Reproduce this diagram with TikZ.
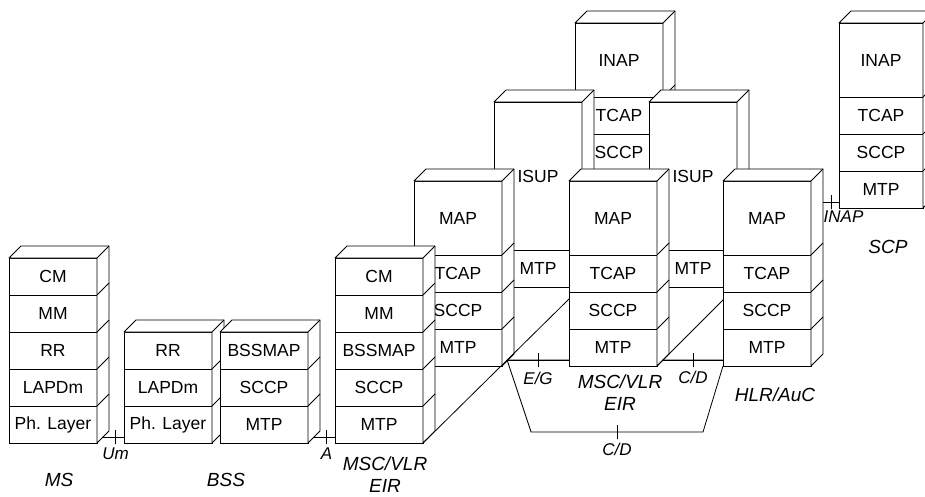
\documentclass[tikz,border=0pt]{standalone}
\usepackage{fontspec}
\setmainfont{Liberation Sans}
\usetikzlibrary{positioning,calc}

% top and right faces of a protocol stack
\newcommand\sides[2]{%
  \draw[face] (#1.north west) -- ++(12,-12) -| ($(#2.south east)+(12,-12)$)
    -- (#2.south east) -- (#1.north east) -- cycle;
  \draw (#1.north east) -- ++(12,-12);}
\newcommand\seam[1]{\draw (#1.south east) -- ++(12,-12);}

\begin{document}
\begin{tikzpicture}[x=1pt,y=-1pt,
  font=\fontsize{17.5}{20}\selectfont,
  line width=0.8pt,
  layer/.style={draw,fill=white,minimum width=88pt,minimum height=37pt,
    inner sep=0pt,outer sep=0pt},
  dbl/.style={layer,minimum height=74pt},
  face/.style={fill=white,line join=round},
  tick/.style={draw,minimum width=0pt,minimum height=14pt,inner sep=0pt,
    outer sep=0pt},
  ifc/.style={font=\fontsize{17}{20}\selectfont\itshape},
  nelabel/.style={font=\fontsize{19}{22}\selectfont\itshape,align=center}
]
\useasboundingbox (0,0) rectangle (925,497);
\clip (0,0) rectangle (925,497);
\fill[white] (0,0) rectangle (925,497);

% SCP
\node[dbl,minimum width=84pt,anchor=north west] (scinap) at (839,23) {INAP};
\node[layer,minimum width=84pt,below=0pt of scinap] (sctcap) {TCAP};
\node[layer,minimum width=84pt,below=0pt of sctcap] (scsccp) {SCCP};
\node[layer,minimum width=84pt,below=0pt of scsccp] (scmtp) {MTP};
\sides{scinap}{scmtp}
\foreach \n in {scinap,sctcap,scsccp} {\seam{\n}}

% rear stack of the MSC/VLR
\node[dbl,anchor=north west] (inap) at (575,23) {INAP};
\node[layer,below=0pt of inap] (intcap) {TCAP};
\node[layer,below=0pt of intcap] (insccp) {SCCP};
\sides{inap}{insccp}
\foreach \n in {inap,intcap} {\seam{\n}}

% ISUP stacks
\node[layer,minimum height=148pt,anchor=north west] (iaisup) at (494,102) {ISUP};
\node[layer,below=0pt of iaisup] (iamtp) {MTP};
\node[layer,minimum height=73pt,below=0pt of iamtp] (iafoot) {};
\sides{iaisup}{iafoot}
\foreach \n in {iaisup,iamtp} {\seam{\n}}

\node[layer,minimum height=148pt,anchor=north west] (ibisup) at (649,102) {ISUP};
\node[layer,below=0pt of ibisup] (ibmtp) {MTP};
\node[layer,minimum height=73pt,below=0pt of ibmtp] (ibfoot) {};
\sides{ibisup}{ibfoot}
\foreach \n in {ibisup,ibmtp} {\seam{\n}}

% MAP stacks
\node[dbl,anchor=north west] (mamap) at (414,181) {MAP};
\node[layer,below=0pt of mamap] (matcap) {TCAP};
\node[layer,below=0pt of matcap] (masccp) {SCCP};
\node[layer,below=0pt of masccp] (mamtp) {MTP};
\sides{mamap}{mamtp}
\foreach \n in {mamap,matcap,masccp} {\seam{\n}}

\node[dbl,anchor=north west] (mbmap) at (569,181) {MAP};
\node[layer,below=0pt of mbmap] (mbtcap) {TCAP};
\node[layer,below=0pt of mbtcap] (mbsccp) {SCCP};
\node[layer,below=0pt of mbsccp] (mbmtp) {MTP};
\sides{mbmap}{mbmtp}
\foreach \n in {mbmap,mbtcap,mbsccp} {\seam{\n}}

\node[dbl,anchor=north west] (hlmap) at (723,181) {MAP};
\node[layer,below=0pt of hlmap] (hltcap) {TCAP};
\node[layer,below=0pt of hltcap] (hlsccp) {SCCP};
\node[layer,below=0pt of hlsccp] (hlmtp) {MTP};
\sides{hlmap}{hlmtp}
\foreach \n in {hlmap,hltcap,hlsccp} {\seam{\n}}

% MS
\node[layer,anchor=north west] (mscm) at (9,258) {CM};
\node[layer,below=0pt of mscm] (msmm) {MM};
\node[layer,below=0pt of msmm] (msrr) {RR};
\node[layer,below=0pt of msrr] (mslapd) {LAPDm};
\node[layer,below=0pt of mslapd] (msph) {Ph. Layer};
\sides{mscm}{msph}
\foreach \n in {mscm,msmm,msrr,mslapd} {\seam{\n}}

% BSS
\node[layer,anchor=north west] (bsrr) at (124,332) {RR};
\node[layer,below=0pt of bsrr] (bslapd) {LAPDm};
\node[layer,below=0pt of bslapd] (bsph) {Ph. Layer};
\sides{bsrr}{bsph}
\foreach \n in {bsrr,bslapd} {\seam{\n}}

\node[layer,anchor=north west] (bsmap) at (220,332) {BSSMAP};
\node[layer,below=0pt of bsmap] (bssccp) {SCCP};
\node[layer,below=0pt of bssccp] (bsmtp) {MTP};
\sides{bsmap}{bsmtp}
\foreach \n in {bsmap,bssccp} {\seam{\n}}

% MSC/VLR, A side
\node[layer,anchor=north west] (mxcm) at (335,258) {CM};
\node[layer,below=0pt of mxcm] (mxmm) {MM};
\node[layer,below=0pt of mxmm] (mxmap) {BSSMAP};
\node[layer,below=0pt of mxmap] (mxsccp) {SCCP};
\node[layer,below=0pt of mxsccp] (mxmtp) {MTP};
\sides{mxcm}{mxmtp}
\foreach \n in {mxcm,mxmm,mxmap,mxsccp} {\seam{\n}}

% floor lines
\coordinate (flA1) at ($(mbtcap.south west)+(0,7)$);
\coordinate (flA) at ($(mxmtp.south east)!0.576!(flA1)$);
\draw (mxmtp.south east) -- (flA1);
\coordinate (flB1) at ($(hltcap.south west)+(0,8)$);
\coordinate (flB) at ($(mbmtp.south east)!0.09!(flB1)$);
\draw (mbmtp.south east) -- (flB1);

% interfaces
\draw ($(msph.south east)+(6,-6)$) -- node[tick,pos=.6] (tkum) {} ($(bsph.south west)+(0,-6)$);
\draw ($(bsmtp.south east)+(6,-6)$) -- node[tick,pos=.6] (tka) {} ($(mxmtp.south west)+(0,-6)$);
\draw (flA) -- node[tick] (tkeg) {} ($(mbmtp.south west)+(0,-6)$);
\draw (flB) -- node[tick] (tkcd) {} ($(hlmtp.south west)+(0,-6)$);
\draw (flA) -- ++(24,72) -- node[tick] (tkcd2) {} ($(hlmtp.south west)+(-20,66)$) -- (hlmtp.south west);
\draw ($(hlmap.north east)+(12,21)$) -- node[tick] (tkinap) {} ($(scmtp.south west)+(0,-6)$);

\node[ifc,below=0pt of tkum] (lbum) {Um};
\node[ifc,below=0pt of tka] (lba) {A};
\node[ifc,below=1pt of tkeg] (lbeg) {E/G};
\node[ifc,below=0pt of tkcd] (lbcd) {C/D};
\node[ifc,below=0pt of tkcd2] (lbcd2) {C/D};
\node[ifc,below right=-2pt and -11pt of tkinap] (lbinap) {INAP};

% network elements
\node[nelabel] (lbms) at (59,480) {MS};
\node[nelabel] (lbbss) at (226,480) {BSS};
\node[nelabel] (lbmsca) at (385,475) {MSC/VLR\\EIR};
\node[nelabel] (lbmscb) at (620,393) {MSC/VLR\\EIR};
\node[nelabel] (lbhlr) at (775,395) {HLR/AuC};
\node[nelabel] (lbscp) at (888,247) {SCP};
\end{tikzpicture}
\end{document}
